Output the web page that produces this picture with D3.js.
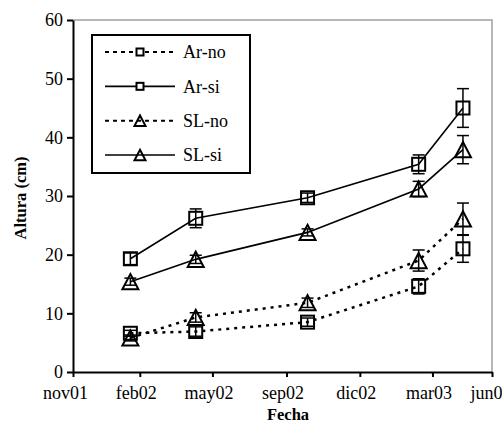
<!DOCTYPE html>
<html>
<head>
<meta charset="utf-8">
<script src="https://cdn.jsdelivr.net/npm/d3@7"></script>
<style>
  body { margin: 0; background: #fff; }
  svg text { font-family: "Liberation Serif", "Times New Roman", serif; }
</style>
</head>
<body>
<div id="chart"></div>
<script>
// sampling dates
var fechas = ["2002-01-19", "2002-04-19", "2002-09-20", "2003-02-20", "2003-04-22"];

var series = ["Ar-no", "Ar-si", "SL-no", "SL-si"];
var arNo = [6.6, 6.9, 8.5, 14.6, 21.0];
var arNoErr = [0.5, 0.8, 0.7, 1.3, 2.3];
var arSi = [19.3, 26.2, 29.7, 35.4, 45.0];
var arSiErr = [1.0, 1.6, 0.8, 1.6, 3.3];
var slNo = [5.8, 9.3, 11.8, 19.0, 26.1];
var slNoErr = [0.5, 0.8, 0.8, 1.8, 2.7];
var slSi = [15.4, 19.2, 23.8, 31.2, 37.9];
var slSiErr = [0.6, 0.7, 0.6, 1.3, 2.4];

// x axis ticks (last label is cut at the page edge in the original)
var xTicks = ["2001-11-01", "2002-02-01", "2002-05-12", "2002-08-22", "2002-12-01", "2003-03-11", "2003-06-01"];
var xTickLabels = ["nov01", "feb02", "may02", "sep02", "dic02", "mar03", "jun0"];
var yTicks = [0, 10, 20, 30, 40, 50, 60];

var parse = d3.timeParse("%Y-%m-%d");

var width = 502, height = 425;
var margin = { top: 20, right: 10, bottom: 53, left: 73 };

var svg = d3.select("#chart").append("svg")
    .attr("width", width)
    .attr("height", height);

var x = d3.scaleTime()
    .domain([parse(xTicks[0]), parse(xTicks[xTicks.length - 1])])
    .range([margin.left, width - margin.right]);

var y = d3.scaleLinear()
    .domain([0, 60])
    .range([height - margin.bottom, margin.top]);

// plot area border (grey top/right)
svg.append("path")
    .attr("d", "M" + x.range()[0] + "," + y(60) + "H" + x.range()[1] + "V" + y(0))
    .attr("fill", "none")
    .attr("stroke", "#a0a0a0")
    .attr("stroke-width", 1.5);

// axes
var xAxis = svg.append("g")
    .attr("transform", "translate(0," + y(0) + ")")
    .attr("font-family", "Liberation Serif")
    .call(d3.axisBottom(x)
        .tickValues(xTicks.map(parse))
        .tickSize(5)
        .tickSizeOuter(0)
        .tickFormat(function (d, i) { return xTickLabels[i]; }));
xAxis.select(".domain").attr("stroke", "#000").attr("stroke-width", 2);
xAxis.selectAll(".tick line").attr("stroke-width", 2);
xAxis.selectAll(".tick text")
    .attr("font-size", 18)
    .attr("fill", "#000")
    .attr("dy", "1.05em")
    .attr("dx", function (d, i) {
        if (i === 0) return -8;
        if (i === xTickLabels.length - 1) return -6;
        return -4;
    });

var yAxis = svg.append("g")
    .attr("transform", "translate(" + x.range()[0] + ",0)")
    .attr("font-family", "Liberation Serif")
    .call(d3.axisLeft(y)
        .tickValues(yTicks)
        .tickSize(6)
        .tickSizeOuter(0));
yAxis.select(".domain").attr("stroke", "#000").attr("stroke-width", 2);
yAxis.selectAll(".tick line").attr("stroke-width", 2);
yAxis.selectAll(".tick text")
    .attr("font-size", 18)
    .attr("fill", "#000")
    .attr("x", -10);

// axis titles
svg.append("text")
    .attr("x", 288)
    .attr("y", 420)
    .attr("text-anchor", "middle")
    .attr("font-size", 16.5)
    .attr("font-weight", "bold")
    .text("Fecha");

svg.append("text")
    .attr("transform", "translate(26," + 198 + ") rotate(-90)")
    .attr("text-anchor", "middle")
    .attr("font-size", 16.5)
    .attr("font-weight", "bold")
    .text("Altura (cm)");

var data = [
    { name: series[0], vals: arNo, err: arNoErr, dashed: true, shape: "square" },
    { name: series[1], vals: arSi, err: arSiErr, dashed: false, shape: "square" },
    { name: series[2], vals: slNo, err: slNoErr, dashed: true, shape: "triangle" },
    { name: series[3], vals: slSi, err: slSiErr, dashed: false, shape: "triangle" }
];

var line = d3.line()
    .x(function (d) { return x(parse(d.f)); })
    .y(function (d) { return y(d.v); });

function points(s) {
    return s.vals.map(function (v, i) { return { f: fechas[i], v: v, e: s.err[i] }; });
}

function marker(g, shape, cx, cy, size, sw) {
    if (shape === "square") {
        g.append("rect")
            .attr("x", cx - size / 2)
            .attr("y", cy - size / 2)
            .attr("width", size)
            .attr("height", size)
            .attr("fill", "none")
            .attr("stroke", "#000")
            .attr("stroke-width", sw);
    } else {
        var h = size * 0.95;
        g.append("path")
            .attr("d", "M" + cx + "," + (cy - h / 2) +
                "L" + (cx + size / 2) + "," + (cy + h / 2) +
                "L" + (cx - size / 2) + "," + (cy + h / 2) + "Z")
            .attr("fill", "none")
            .attr("stroke", "#000")
            .attr("stroke-width", sw);
    }
}

// lines
data.forEach(function (s) {
    svg.append("path")
        .datum(points(s))
        .attr("d", line)
        .attr("fill", "none")
        .attr("stroke", "#000")
        .attr("stroke-width", s.dashed ? 2.5 : 1.6)
        .attr("stroke-dasharray", s.dashed ? "3,5" : null);
});

// error bars and markers
data.forEach(function (s) {
    var g = svg.append("g");
    points(s).forEach(function (p) {
        var cx = x(parse(p.f));
        var y1 = y(p.v + p.e), y2 = y(p.v - p.e);
        g.append("line").attr("x1", cx).attr("x2", cx).attr("y1", y1).attr("y2", y2)
            .attr("stroke", "#000").attr("stroke-width", 1.5);
        [y1, y2].forEach(function (yy) {
            g.append("line").attr("x1", cx - 6).attr("x2", cx + 6).attr("y1", yy).attr("y2", yy)
                .attr("stroke", "#000").attr("stroke-width", 1.5);
        });
        marker(g, s.shape, cx, y(p.v), s.shape === "square" ? 13 : 16, 2);
    });
});

// legend
var legend = svg.append("g");
legend.append("rect")
    .attr("x", 92)
    .attr("y", 35)
    .attr("width", 158)
    .attr("height", 138)
    .attr("fill", "#fff")
    .attr("stroke", "#000")
    .attr("stroke-width", 2);

var legendY = d3.scalePoint().domain(series).range([52, 155]);

data.forEach(function (s) {
    var ly = legendY(s.name);
    legend.append("line")
        .attr("x1", 105).attr("x2", 175)
        .attr("y1", ly).attr("y2", ly)
        .attr("stroke", "#000")
        .attr("stroke-width", s.dashed ? 2 : 1.6)
        .attr("stroke-dasharray", s.dashed ? "4,4" : null);
    if (s.shape === "square") {
        legend.append("rect").attr("x", 136.5).attr("y", ly - 3.5).attr("width", 7).attr("height", 7)
            .attr("fill", "#fff").attr("stroke", "#000").attr("stroke-width", 2);
    } else {
        marker(legend, "triangle", 140, ly, 11, 2);
    }
    legend.append("text")
        .attr("x", 183)
        .attr("y", ly)
        .attr("dy", "0.35em")
        .attr("font-size", 18)
        .text(s.name);
});
</script>
</body>
</html>
